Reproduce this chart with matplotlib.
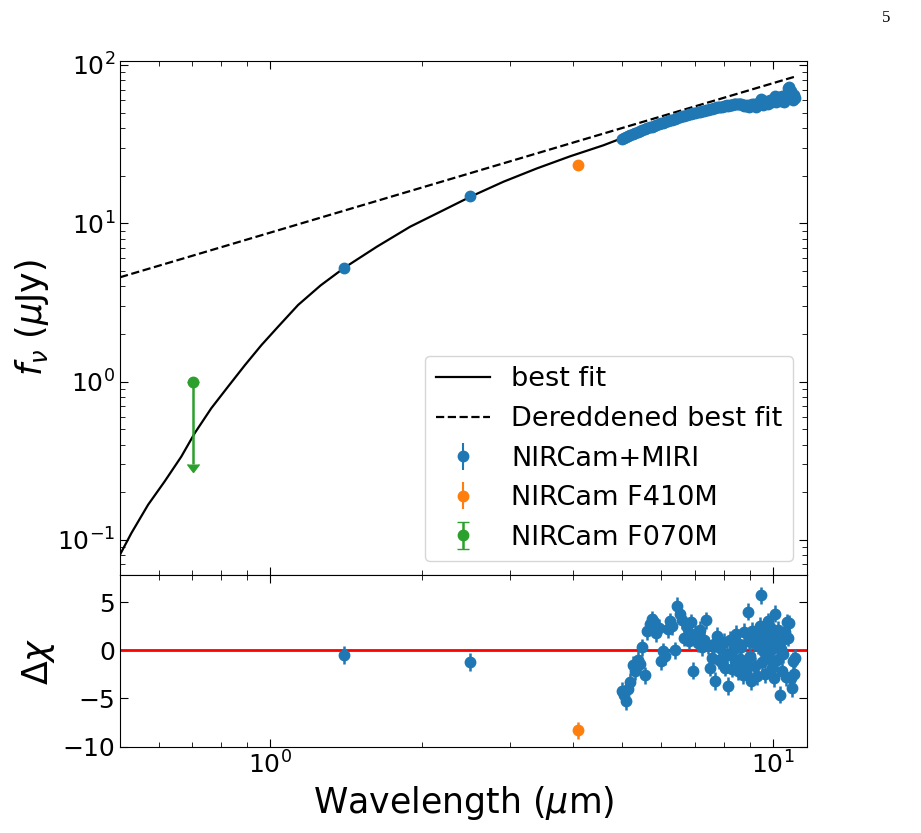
import matplotlib
matplotlib.use("Agg")
import matplotlib.pyplot as plt

# --- photometry (micron, microJy) ---
nircam_wl = [1.40, 2.50]
nircam_flux = [5.2, 14.8]
nircam_resid = [-0.5, -1.2]

f410m_wl = [4.10]
f410m_flux = [23.3]
f410m_resid = [-8.3]

f070m_wl = [0.704]
f070m_flux = [1.0]
f070m_err = [0.70]

# MIRI spectrum
miri_wl = [5.00, 5.05, 5.10, 5.15, 5.20, 5.26, 5.32, 5.38, 5.44, 5.50,
           5.56, 5.62, 5.68, 5.74, 5.80, 5.86, 5.92, 5.98, 6.04, 6.10,
           6.17, 6.24, 6.31, 6.38, 6.45, 6.52, 6.59, 6.66, 6.73, 6.80,
           6.87, 6.94, 7.01, 7.08, 7.15, 7.22, 7.29, 7.36, 7.43, 7.50,
           7.56, 7.62, 7.68, 7.74, 7.80, 7.86, 7.92, 7.98, 8.04, 8.10,
           8.15, 8.20, 8.25, 8.30, 8.35, 8.40, 8.45, 8.50, 8.55, 8.60,
           8.65, 8.70, 8.75, 8.80, 8.85, 8.90, 8.95, 9.00, 9.05, 9.10,
           9.15, 9.20, 9.25, 9.30, 9.35, 9.40, 9.45, 9.50, 9.55, 9.60,
           9.65, 9.70, 9.75, 9.80, 9.85, 9.90, 9.95, 10.00, 10.05, 10.10,
           10.15, 10.20, 10.25, 10.30, 10.35, 10.40, 10.45, 10.50, 10.55, 10.60,
           10.65, 10.72, 10.78, 10.84, 10.90, 10.96, 11.02, 11.08]
miri_flux = [34.3, 34.8, 35.2, 35.7, 36.0, 36.6, 37.2, 37.6, 38.1, 38.8,
             39.2, 39.9, 40.3, 40.6, 41.2, 41.8, 42.1, 42.9, 43.3, 43.6,
             44.1, 44.9, 45.2, 45.6, 46.4, 47.0, 47.3, 47.6, 48.3, 48.9,
             49.0, 49.4, 49.8, 50.1, 50.6, 51.0, 51.4, 51.6, 52.1, 52.6,
             52.8, 53.2, 53.4, 53.9, 54.1, 54.4, 54.6, 55.0, 55.3, 55.5,
             55.4, 55.9, 56.2, 56.0, 56.5, 56.8, 56.4, 56.9, 57.1, 56.6,
             56.3, 55.8, 55.4, 56.1, 54.9, 55.5, 54.3, 55.2, 56.0, 57.0,
             56.4, 55.1, 54.6, 55.8, 57.2, 58.3, 60.6, 56.5, 56.0, 57.4,
             58.8, 57.9, 56.8, 58.5, 60.1, 59.3, 58.0, 60.4, 61.8, 63.5,
             58.7, 60.2, 62.5, 61.0, 59.4, 63.8, 60.2, 58.0, 60.5, 62.8,
             66.0, 71.5, 72.8, 68.0, 63.0, 59.8, 64.5, 61.5]
miri_resid = [-4.2, -4.6, -5.3, -4.0, -3.3, -1.5, -2.2, -1.0, -1.4, 0.3,
              -2.6, 2.0, 2.7, 3.2, 2.9, 1.8, 2.3, -1.1, -0.1, -0.6,
              2.2, 3.0, 2.5, 0.0, 4.6, 3.8, 3.1, 1.3, 2.4, 1.0,
              2.9, -2.1, 1.7, 0.7, 2.1, 0.3, 1.1, 3.1, 0.5, -1.8,
              -0.8, 0.6, -3.2, 1.5, -1.0, 0.2, -1.3, 0.9, -1.8, -0.5,
              -3.7, 1.1, -0.4, -1.9, 0.1, -1.1, 1.7, -2.2, 0.6, -0.9,
              0.3, -2.6, 1.9, -1.4, -2.2, 4.0, 1.0, -0.6, -3.2, 2.0,
              0.8, -1.6, 1.3, -2.7, 0.5, 2.5, 5.7, -1.2, 1.8, -0.2,
              -2.5, 1.0, 3.0, -0.8, 2.4, 0.0, -1.8, 1.5, -2.9, 3.8,
              0.9, -1.0, 2.1, -4.6, 0.1, -2.1, -0.4, 1.2, 1.9, -2.8,
              2.9, 1.3, 2.8, -2.9, -3.9, -1.1, -2.5, -0.8]
resid_err = 0.9

# --- SED models ---
model_wl = [0.503, 0.530, 0.572, 0.617, 0.666, 0.708, 0.764, 0.825, 0.891,
            0.961, 1.037, 1.137, 1.260, 1.405, 1.63, 1.898, 2.211, 2.50,
            2.91, 3.39, 3.95, 4.60, 5.08]
model_flux = [0.0807, 0.1105, 0.1667, 0.234, 0.336, 0.472, 0.679, 0.930, 1.27,
              1.70, 2.22, 3.05, 4.05, 5.24, 7.11, 9.51, 12.1, 14.7,
              18.3, 22.2, 26.5, 31.1, 35.1]
dered_wl = [0.503, 11.0]
dered_flux = [4.56, 84.0]

blue_wl = nircam_wl + miri_wl
blue_flux = nircam_flux + miri_flux
blue_resid = nircam_resid + miri_resid

fig = plt.figure(figsize=(9.21, 8.33), dpi=100)
ax = fig.add_axes([0.1303, 0.3097, 0.7459, 0.6171])
axr = fig.add_axes([0.1303, 0.1036, 0.7459, 0.2061], sharex=ax)

ms = 7.5
ax.plot(model_wl, model_flux, color='k', lw=1.6, label='best fit')
ax.plot(dered_wl, dered_flux, color='k', lw=1.6, ls='--', label='Dereddened best fit')
ax.errorbar(blue_wl, blue_flux, yerr=[0.02 * v for v in blue_flux], fmt='o',
            color='C0', ms=ms, label='NIRCam+MIRI')
ax.errorbar(f410m_wl, f410m_flux, yerr=[0.3], fmt='o', color='C1', ms=ms,
            label='NIRCam F410M')
ax.errorbar(f070m_wl, f070m_flux, yerr=f070m_err, uplims=True, fmt='o',
            color='C2', ms=ms, capsize=4, lw=1.8, label='NIRCam F070M')

ax.set_xscale('log')
ax.set_yscale('log')
ax.set_xlim(0.503, 11.68)
ax.set_ylim(0.06, 106)
ax.set_ylabel(r'$f_\nu$ ($\mu$Jy)', fontsize=25)
ax.legend(loc='lower right', fontsize=19.5)
plt.setp(ax.get_xticklabels(), visible=False)

axr.axhline(0, color='r', lw=2)
axr.errorbar(blue_wl, blue_resid, yerr=resid_err, fmt='o', color='C0', ms=ms, lw=1.8)
axr.errorbar(f410m_wl, f410m_resid, yerr=resid_err, fmt='o', color='C1', ms=ms, lw=1.8)
axr.set_ylim(-10, 7.8)
axr.set_yticks([5, 0, -5, -10])
axr.set_xlabel(r'Wavelength ($\mu$m)', fontsize=25)
axr.set_ylabel(r'$\Delta\chi$', fontsize=25)

for a in (ax, axr):
    a.tick_params(which='both', direction='in', top=True, right=True, labelsize=18)
    a.tick_params(which='major', length=6)
    a.tick_params(which='minor', length=3.5)

fig.text(0.962, 0.978, '5', family='Liberation Serif', fontsize=12, ha='center', va='center')

fig.savefig('out.png', dpi=100)
